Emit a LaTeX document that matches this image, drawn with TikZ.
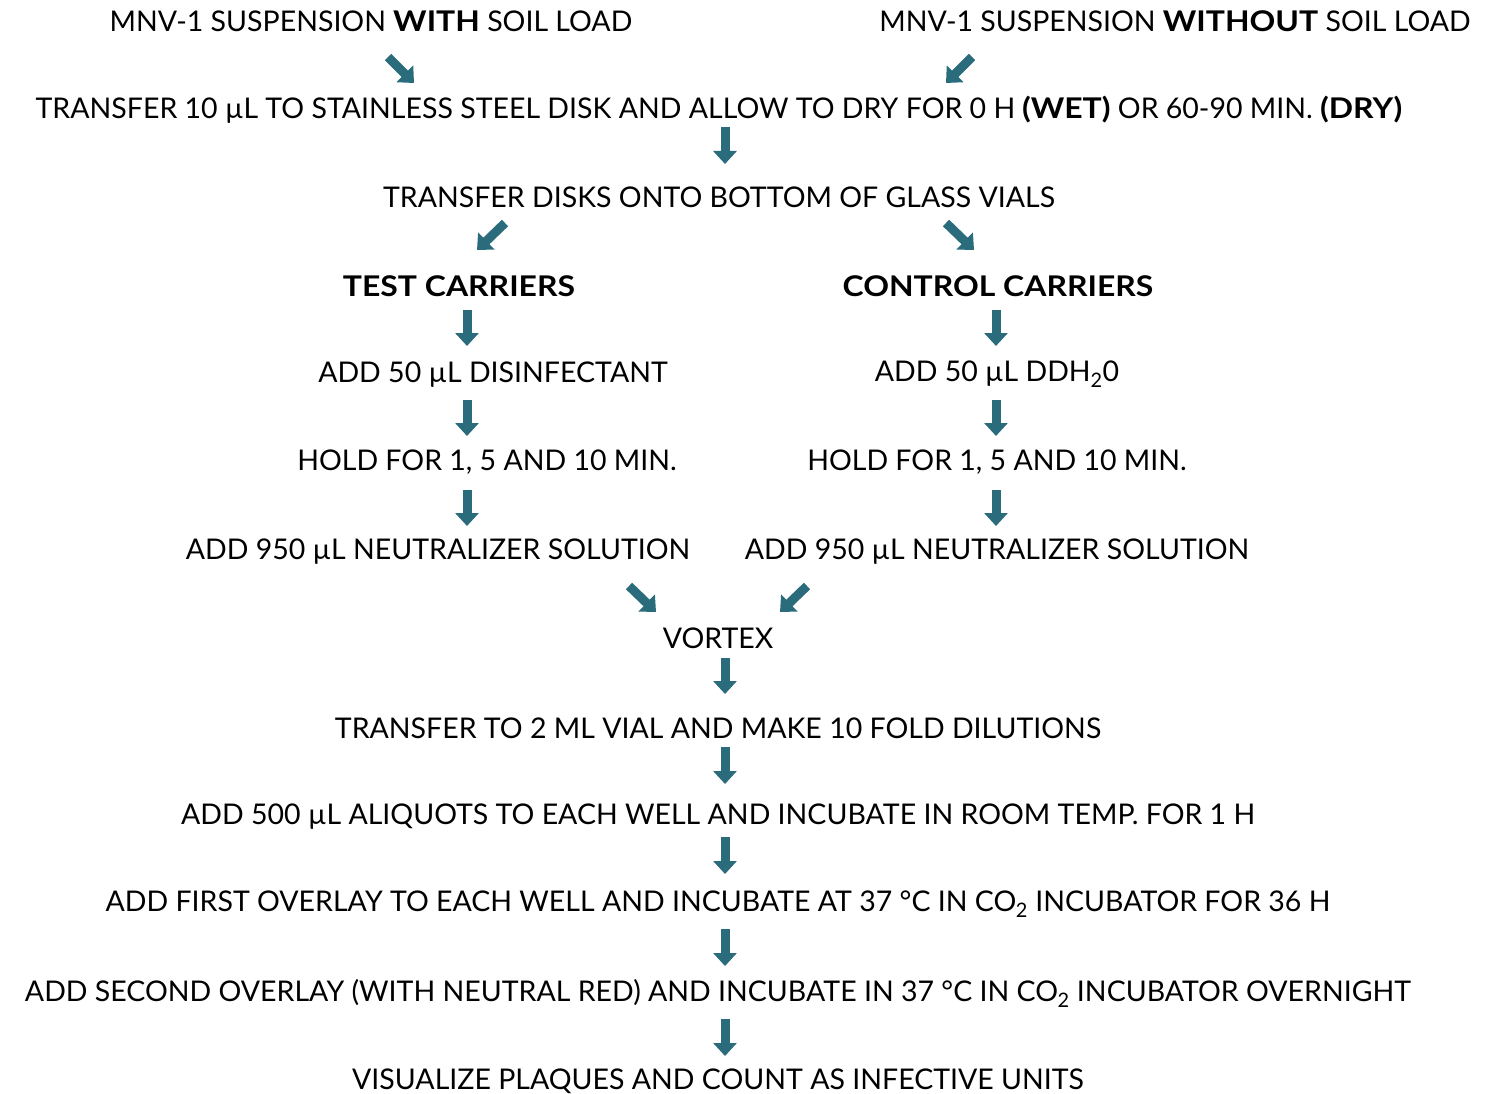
\documentclass[tikz,border=0pt]{standalone}
\usepackage{fontspec}
\setmainfont{Lato}
\usetikzlibrary{arrows.meta}
\definecolor{arrowteal}{HTML}{2A6B7C}
\newcommand{\bw}[1]{\scalebox{1.12}[1]{\textbf{#1}}}
\tikzset{
  lbl/.style={inner sep=0pt, yshift=-1.5pt, font=\fontsize{28.5}{34}\selectfont, text=black},
  flow/.style={draw=arrowteal, line width=9pt, -{Triangle[width=23pt,length=13pt]}},
}
\begin{document}
\begin{tikzpicture}[x=1pt,y=-1pt]
\useasboundingbox (0,0) rectangle (1485,1094);
\node[lbl] (with) at (371,20) {MNV-1 SUSPENSION \bw{WITH} SOIL LOAD};
\node[lbl] (without) at (1175,20) {MNV-1 SUSPENSION \bw{WITHOUT} SOIL LOAD};
\node[lbl] (transfer) at (719,108) {TRANSFER 10 µL TO STAINLESS STEEL DISK AND ALLOW TO DRY FOR 0 H \bw{(WET)} OR 60-90 MIN. \bw{(DRY)}};
\node[lbl] (disks) at (719,196) {TRANSFER DISKS ONTO BOTTOM OF GLASS VIALS};
\node[lbl] (test) at (459,285) {\bw{TEST CARRIERS}};
\node[lbl] (control) at (998,285) {\bw{CONTROL CARRIERS}};
\node[lbl] (disinf) at (493,373) {ADD 50 µL DISINFECTANT};
\node[lbl] (ddh) at (997,373) {ADD 50 µL DDH\textsubscript{2}0};
\node[lbl] (holdl) at (487,461) {HOLD FOR 1, 5 AND 10 MIN.};
\node[lbl] (holdr) at (997,461) {HOLD FOR 1, 5 AND 10 MIN.};
\node[lbl] (neutl) at (438,550) {ADD 950 µL NEUTRALIZER SOLUTION};
\node[lbl] (neutr) at (997,550) {ADD 950 µL NEUTRALIZER SOLUTION};
\node[lbl] (vortex) at (718,637) {VORTEX};
\node[lbl] (vial) at (718,727) {TRANSFER TO 2 ML VIAL AND MAKE 10 FOLD DILUTIONS};
\node[lbl] (aliq) at (718,815) {ADD 500 µL ALIQUOTS TO EACH WELL AND INCUBATE IN ROOM TEMP. FOR 1 H};
\node[lbl] (first) at (718,903) {ADD FIRST OVERLAY TO EACH WELL AND INCUBATE AT 37 °C IN CO\textsubscript{2} INCUBATOR FOR 36 H};
\node[lbl] (second) at (718,992) {ADD SECOND OVERLAY (WITH NEUTRAL RED) AND INCUBATE IN 37 °C IN CO\textsubscript{2} INCUBATOR OVERNIGHT};
\node[lbl] (visual) at (718,1080) {VISUALIZE PLAQUES AND COUNT AS INFECTIVE UNITS};
% arrow end coordinates
\coordinate (a1s) at (388,57); \coordinate (a1e) at (414,83);
\coordinate (a2s) at (972,57); \coordinate (a2e) at (946,83);
\coordinate (a3s) at (725,127); \coordinate (a3e) at (725,164);
\coordinate (a4s) at (505,223); \coordinate (a4e) at (477,250);
\coordinate (a5s) at (946,223); \coordinate (a5e) at (974,250);
\coordinate (a6s) at (467,310); \coordinate (a6e) at (467,346);
\coordinate (a7s) at (996,310); \coordinate (a7e) at (996,346);
\coordinate (a8s) at (467,400); \coordinate (a8e) at (467,436);
\coordinate (a9s) at (996,400); \coordinate (a9e) at (996,436);
\coordinate (a10s) at (467,490); \coordinate (a10e) at (467,526);
\coordinate (a11s) at (996,490); \coordinate (a11e) at (996,526);
\coordinate (a12s) at (629,586); \coordinate (a12e) at (656,612);
\coordinate (a13s) at (807,586); \coordinate (a13e) at (780,612);
\coordinate (a14s) at (725,658); \coordinate (a14e) at (725,694);
\coordinate (a15s) at (725,747); \coordinate (a15e) at (725,784);
\coordinate (a16s) at (725,837); \coordinate (a16e) at (725,874);
\coordinate (a17s) at (725,929); \coordinate (a17e) at (725,966);
\coordinate (a18s) at (725,1019); \coordinate (a18e) at (725,1056);
\foreach \i in {1,...,18} \draw[flow] (a\i s) -- (a\i e);
\end{tikzpicture}
\end{document}
